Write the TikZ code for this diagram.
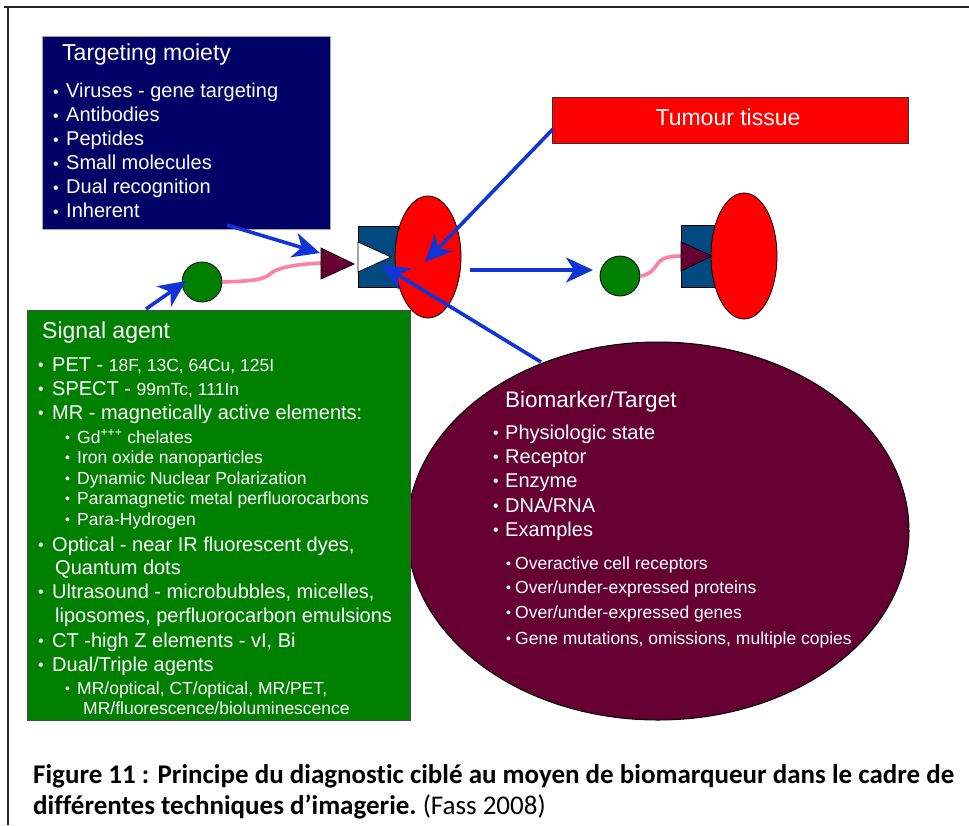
\documentclass[tikz,border=0pt]{standalone}
\usepackage{fontspec}
\setmainfont{Liberation Sans}
\newfontfamily\capfont[Ligatures=NoCommon]{Carlito}
\usetikzlibrary{shapes.geometric,arrows.meta}
\definecolor{navyb}{RGB}{0,0,102}
\definecolor{greenb}{RGB}{0,128,0}
\definecolor{purp}{RGB}{102,0,51}
\definecolor{sqblue}{RGB}{0,74,128}
\definecolor{arrblue}{RGB}{16,52,214}
\definecolor{pinkl}{RGB}{255,128,165}
\newcommand\mybul[1]{\makebox[#1][l]{\raisebox{0.03em}{\scalebox{0.8}{•}}}}
\newcommand\tsz{\fontsize{23}{27}\selectfont}
\newcommand\msz{\fontsize{20}{24}\selectfont}
\newcommand\ssz{\fontsize{17.5}{21}\selectfont}
\tikzset{
  txt/.style={anchor=base west, inner sep=0pt, text=white},
  ttl/.style={txt, font=\tsz},
  mtx/.style={txt, font=\msz},
  stx/.style={txt, font=\ssz},
  arr/.style={draw=arrblue, line width=3.6pt, -{Stealth[length=27pt,width=25pt,inset=8pt]}},
  pinkline/.style={draw=pinkl, line width=3.6pt},
  mole/.style={draw=black, line width=0.8pt},
  capt/.style={anchor=base west, inner sep=0pt, font=\capfont\fontsize{27}{31}\selectfont},
}
\begin{document}
\begin{tikzpicture}[x=1pt,y=-1pt]
\useasboundingbox (0,0) rectangle (969,825);
% frame
\draw[line width=2pt, black!85] (4,7) -- (969,7);
\draw[line width=2pt, black!85] (8,6) -- (8,825);

% Biomarker ellipse (behind the signal box)
\node[ellipse, draw=black, line width=1pt, fill=purp, minimum width=502pt, minimum height=378pt, inner sep=0pt] (bio) at (658,531) {};
\node[ttl, font=\fontsize{22.5}{26}\selectfont] (biot) at (505,407) {Biomarker/Target};
\node[mtx] (bi1) at (493,439) {\mybul{12pt}Physiologic state};
\node[mtx] (bi2) at (493,463) {\mybul{12pt}Receptor};
\node[mtx] (bi3) at (493,487) {\mybul{12pt}Enzyme};
\node[mtx] (bi4) at (493,512) {\mybul{12pt}DNA/RNA};
\node[mtx] (bi5) at (493,536) {\mybul{12pt}Examples};
\node[stx] (bi6) at (506,569) {\mybul{9pt}Overactive cell receptors};
\node[stx] (bi7) at (506,593) {\mybul{9pt}Over/under-expressed proteins};
\node[stx] (bi8) at (506,618) {\mybul{9pt}Over/under-expressed genes};
\node[stx] (bi9) at (506,644) {\mybul{9pt}Gene mutations, omissions, multiple copies};

% Targeting moiety box
\node[draw=gray!70, line width=1pt, fill=navyb, anchor=north west, minimum width=288pt, minimum height=193pt, inner sep=0pt] (tmbox) at (42,36) {};
\node[ttl] (tmt) at (62,60) {Targeting moiety};
\node[mtx] (tm1) at (53,97.7) {\mybul{13pt}Viruses - gene targeting};
\node[mtx] (tm2) at (53,121.7) {\mybul{13pt}Antibodies};
\node[mtx] (tm3) at (53,145.7) {\mybul{13pt}Peptides};
\node[mtx] (tm4) at (53,169.7) {\mybul{13pt}Small molecules};
\node[mtx] (tm5) at (53,193.7) {\mybul{13pt}Dual recognition};
\node[mtx] (tm6) at (53,217.7) {\mybul{13pt}Inherent};

% Tumour tissue
\node[draw=black!80, line width=1.2pt, fill=red, anchor=north west, minimum width=356pt, minimum height=46pt, inner sep=0pt] (tumour) at (552,97) {};
\node[font=\tsz, text=white, anchor=base] (tumt) at (728,125) {Tumour tissue};

% Signal agent box
\node[draw=gray!60!black, line width=1pt, fill=greenb, anchor=north west, minimum width=383pt, minimum height=410pt, inner sep=0pt] (sabox) at (27,310) {};
\node[ttl] (sat) at (42,338) {Signal agent};
\node[mtx] (sa1) at (38,371) {\mybul{14pt}PET - {\ssz 18F, 13C, 64Cu, 125I}};
\node[mtx] (sa2) at (38,395) {\mybul{14pt}SPECT - {\ssz 99mTc, 111In}};
\node[mtx] (sa3) at (38,419) {\mybul{14pt}MR - magnetically active elements:};
\node[stx] (sa4) at (65,443) {\mybul{12pt}Gd\textsuperscript{+++} chelates};
\node[stx] (sa5) at (65,463.5) {\mybul{12pt}Iron oxide nanoparticles};
\node[stx] (sa6) at (65,484) {\mybul{12pt}Dynamic Nuclear Polarization};
\node[stx] (sa7) at (65,504.5) {\mybul{12pt}Paramagnetic metal perfluorocarbons};
\node[stx] (sa8) at (65,525) {\mybul{12pt}Para-Hydrogen};
\node[mtx] (sa9) at (38,551) {\mybul{14pt}Optical - near IR fluorescent dyes,};
\node[mtx] (sa10) at (55,574) {Quantum dots};
\node[mtx] (sa11) at (38,598) {\mybul{14pt}Ultrasound - microbubbles, micelles,};
\node[mtx] (sa12) at (55,622) {liposomes, perfluorocarbon emulsions};
\node[mtx] (sa13) at (38,647) {\mybul{14pt}CT -high Z elements - vI, Bi};
\node[mtx] (sa14) at (38,671) {\mybul{14pt}Dual/Triple agents};
\node[stx] (sa15) at (65,694) {\mybul{12pt}MR/optical, CT/optical, MR/PET,};
\node[stx] (sa16) at (83,714) {MR/fluorescence/bioluminescence};

% left molecule
\node[mole, circle, fill=greenb, minimum size=40pt, inner sep=0pt] (gc1) at (202,282) {};
\draw[pinkline] (gc1.east) .. controls (252,281) and (263,280) .. (270,274) .. controls (277,267) and (300,264) .. (321,263);
\node[mole, fill=sqblue, anchor=north west, minimum width=40pt, minimum height=61pt, inner sep=0pt] (sq1) at (358,226) {};
\draw[mole, fill=white] (358,242) -- (391,257) -- (358,272) -- cycle;
\node[mole, ellipse, fill=red, minimum width=66pt, minimum height=122pt, inner sep=0pt] (re1) at (428,257) {};
\draw[mole, fill=purp] (321,248) -- (354,264) -- (321,279) -- cycle;
\coordinate (tri1) at (320,253);

% right molecule
\node[mole, circle, fill=greenb, minimum size=40pt, inner sep=0pt] (gc2) at (620,276) {};
\draw[pinkline] (gc2.east) .. controls (655,274) and (655,263) .. (663,259) .. controls (670,256) and (675,256) .. (682,256);
\node[mole, fill=sqblue, anchor=north west, minimum width=40pt, minimum height=62pt, inner sep=0pt] (sq2) at (681,225) {};
\node[mole, ellipse, fill=red, minimum width=66pt, minimum height=126pt, inner sep=0pt] (re2) at (744,256) {};
\draw[mole, fill=purp] (681,242) -- (712,256) -- (681,271) -- cycle;

% arrows
\coordinate (a1s) at (227,225);
\coordinate (a2s) at (146,309);
\coordinate (a2e) at (186,281);
\coordinate (a3s) at (553,129);
\coordinate (a3e) at (425,262);
\coordinate (a4s) at (541,362);
\coordinate (a4e) at (382,265);
\coordinate (a5s) at (470,270);
\coordinate (a5e) at (593,270);
\draw[arr] (a1s) -- (tri1);
\draw[arr] (a2s) -- (a2e);
\draw[arr] (a3s) -- (a3e);
\draw[arr] (a4s) -- (a4e);
\draw[arr] (a5s) -- (a5e);

% caption
\node[capt] (cap1) at (33,783) {\bfseries Figure 11 : Principe du diagnostic ciblé au moyen de biomarqueur dans le cadre de};
\node[capt] (cap2) at (33,814) {\bfseries différentes techniques d’imagerie.\mdseries\ (Fass 2008)};
\end{tikzpicture}
\end{document}
